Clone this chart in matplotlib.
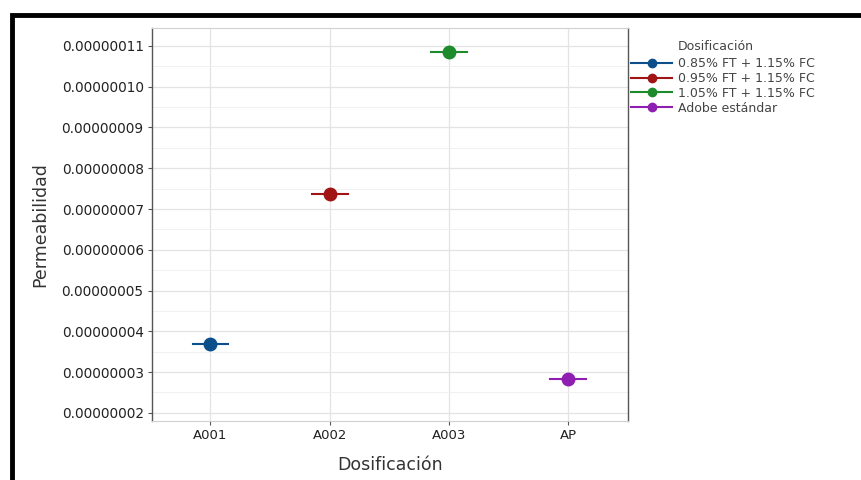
import matplotlib
matplotlib.use("Agg")
import matplotlib.pyplot as plt
from matplotlib.patches import Rectangle
from matplotlib.lines import Line2D
import numpy as np

categories = ["A001", "A002", "A003", "AP"]
values = [3.70e-8, 7.38e-8, 10.86e-8, 2.82e-8]
series = ["0.85% FT + 1.15% FC", "0.95% FT + 1.15% FC", "1.05% FT + 1.15% FC", "Adobe estándar"]
colors = ["#0d4f8b", "#a01414", "#1d8a2c", "#8e1fb0"]
yticks = [2e-8, 3e-8, 4e-8, 5e-8, 6e-8, 7e-8, 8e-8, 9e-8, 10e-8, 11e-8]
ytick_labels = ["0.00000002", "0.00000003", "0.00000004", "0.00000005", "0.00000006",
                "0.00000007", "0.00000008", "0.00000009", "0.00000010", "0.00000011"]

plt.rcParams['font.family'] = ['DejaVu Sans']

fig = plt.figure(figsize=(8.62, 4.8), dpi=100)
ax = fig.add_axes([152/862, 1 - 421/480, (628-152)/862, (421-28)/480])

x = np.arange(len(categories))
for i, (v, c, s) in enumerate(zip(values, colors, series)):
    ax.plot([x[i] - 0.15, x[i] + 0.15], [v, v], color=c, lw=1.5, zorder=3)
    ax.plot(x[i], v, 'o', color=c, ms=9, zorder=4)

ax.set_xlim(-0.49, 3.5)
ax.set_ylim(1.80e-8, 11.44e-8)
ax.set_xticks(x)
ax.set_xticklabels(categories, fontsize=9.5)
ax.set_yticks(yticks)
ax.set_yticklabels(ytick_labels, fontsize=9.8)
ax.set_yticks([v + 0.5e-8 for v in yticks[:-1]], minor=True)
ax.grid(True, which='major', color='#e3e3e3', lw=0.9)
ax.grid(True, which='minor', axis='y', color='#efefef', lw=0.6)
ax.set_axisbelow(True)
ax.tick_params(axis='both', which='major', length=3, color='#555555', colors='#222222', pad=3)
ax.tick_params(axis='y', which='minor', length=0)
for side in ['top', 'bottom']:
    ax.spines[side].set_color('#d0d0d0')
for side in ['left', 'right']:
    ax.spines[side].set_color('#555555')
    ax.spines[side].set_linewidth(1.0)

ax.set_xlabel("Dosificación", fontsize=12.5, color='#333333')
ax.set_ylabel("Permeabilidad", fontsize=12.5, color='#333333')
ax.xaxis.set_label_coords(0.5, -(465 - 421) / (421 - 28), transform=ax.transAxes)
ax.yaxis.set_label_coords(-(152 - 40) / (628 - 152), 0.5, transform=ax.transAxes)
ax.xaxis.label.set_va('center')
ax.yaxis.label.set_va('center')

handles = [Line2D([0], [0], color=c, lw=1.5, marker='o', ms=6) for c in colors]
leg = fig.legend(handles, series, loc='upper left',
                 bbox_to_anchor=(626/862, 1 - 52/480), frameon=False,
                 fontsize=9, handlelength=3.3,
                 labelspacing=0.15, handletextpad=0.5, borderaxespad=0)
for t in leg.get_texts():
    t.set_color('#444444')
fig.text(678/862, 1 - 46/480, "Dosificación", fontsize=9, color='#444444',
         ha='left', va='center')

# screenshot frame
fig.patches.append(Rectangle((12/862, -0.1), 1.0, 1 - 15/480 + 0.1,
                             transform=fig.transFigure, fill=False,
                             edgecolor='black', lw=3.5))

fig.savefig("out.png", dpi=100)
